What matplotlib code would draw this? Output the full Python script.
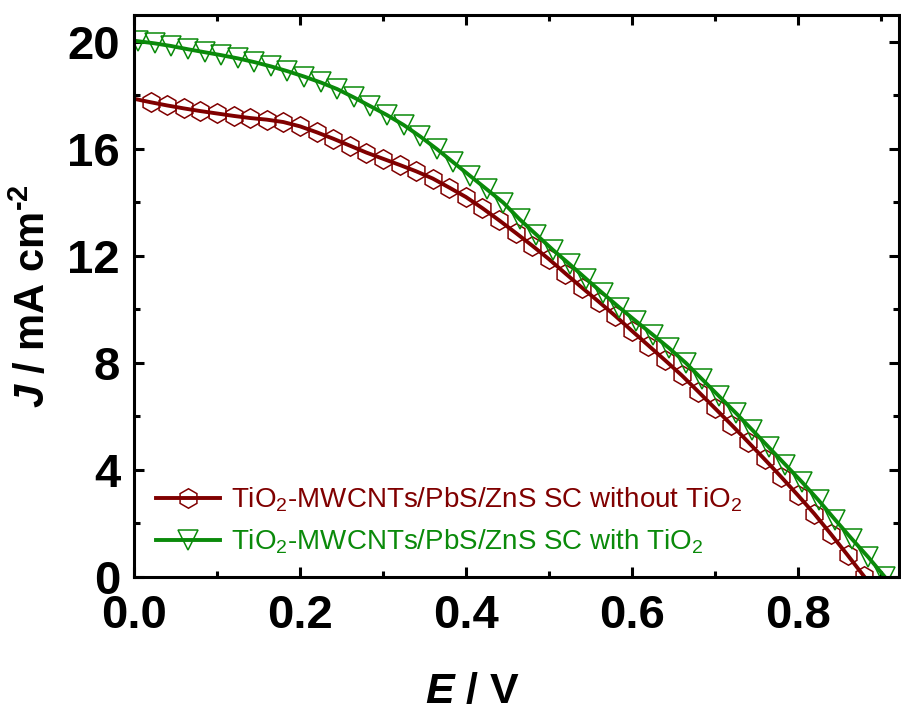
import matplotlib
matplotlib.use("Agg")
import matplotlib.pyplot as plt
from matplotlib.ticker import MultipleLocator

# J-V curves
E_red = [0.00, 0.02, 0.04, 0.06, 0.08, 0.10, 0.12, 0.14, 0.16, 0.18,
         0.20, 0.22, 0.24, 0.26, 0.28, 0.30, 0.32, 0.34, 0.36, 0.38,
         0.40, 0.42, 0.44, 0.46, 0.48, 0.50, 0.52, 0.54, 0.56, 0.58,
         0.60, 0.62, 0.64, 0.66, 0.68, 0.70, 0.72, 0.74, 0.76, 0.78,
         0.80, 0.82, 0.84, 0.86, 0.88]
J_red = [17.87, 17.74, 17.62, 17.51, 17.41, 17.32, 17.23, 17.15, 17.09, 17.00,
         16.84, 16.62, 16.38, 16.12, 15.86, 15.63, 15.40, 15.16, 14.89, 14.55,
         14.20, 13.78, 13.33, 12.86, 12.38, 11.88, 11.34, 10.81, 10.29, 9.76,
         9.20, 8.65, 8.10, 7.54, 6.93, 6.31, 5.69, 5.05, 4.40, 3.74,
         3.06, 2.36, 1.60, 0.82, 0.02]

E_green = [0.000, 0.005, 0.025, 0.045, 0.065, 0.085, 0.105, 0.125, 0.145, 0.165,
           0.185, 0.205, 0.225, 0.245, 0.265, 0.285, 0.305, 0.325, 0.345, 0.365,
           0.385, 0.405, 0.425, 0.445, 0.465, 0.485, 0.505, 0.525, 0.545, 0.565,
           0.585, 0.605, 0.625, 0.645, 0.665, 0.685, 0.705, 0.725, 0.745, 0.765,
           0.785, 0.805, 0.825, 0.845, 0.865, 0.885, 0.905]
J_green = [20.04, 20.02, 19.94, 19.84, 19.72, 19.61, 19.50, 19.38, 19.24, 19.08,
           18.90, 18.70, 18.48, 18.23, 17.92, 17.59, 17.26, 16.89, 16.46, 15.99,
           15.49, 14.99, 14.49, 13.99, 13.36, 12.79, 12.22, 11.69, 11.14, 10.60,
           10.07, 9.56, 9.06, 8.55, 8.00, 7.38, 6.76, 6.14, 5.50, 4.85,
           4.20, 3.55, 2.87, 2.14, 1.43, 0.74, 0.00]

label_red = "TiO$_2$-MWCNTs/PbS/ZnS SC without TiO$_2$"
label_green = "TiO$_2$-MWCNTs/PbS/ZnS SC with TiO$_2$"

red = "#800000"
green = "#0a8a0a"

plt.rcParams["font.family"] = ["Liberation Sans", "DejaVu Sans"]
plt.rcParams["mathtext.fontset"] = "custom"
plt.rcParams["mathtext.rm"] = "Liberation Sans"
plt.rcParams["mathtext.it"] = "Liberation Sans:italic"
plt.rcParams["mathtext.bf"] = "Liberation Sans:bold"
plt.rcParams["mathtext.bfit"] = "Liberation Sans:italic:bold"

fig = plt.figure(figsize=(9.01, 7.12), dpi=100)
ax = fig.add_axes([134 / 901, 1 - 577 / 712, 765 / 901, 562 / 712])

ax.plot(E_red, J_red, color=red, lw=2.8, marker="h", ms=14, mfc="none",
        mec=red, mew=1.1, markevery=list(range(1, len(E_red))), label=label_red)
ax.plot(E_green, J_green, color=green, lw=2.8, marker="v", ms=14, mfc="none",
        mec=green, mew=1.1, markevery=list(range(1, len(E_green))), label=label_green)

ax.set_xlim(0, 0.922)
ax.set_ylim(0, 21)
ax.xaxis.set_major_locator(MultipleLocator(0.2))
ax.xaxis.set_minor_locator(MultipleLocator(0.1))
ax.yaxis.set_major_locator(MultipleLocator(4))
ax.yaxis.set_minor_locator(MultipleLocator(2))
ax.xaxis.set_major_formatter(plt.FuncFormatter(lambda v, p: f"{v:.1f}"))

for s in ax.spines.values():
    s.set_linewidth(2.2)
ax.tick_params(which="both", direction="in", top=True, right=True, width=2.2)
ax.tick_params(which="major", length=7.5, labelsize=34)
ax.tick_params(which="minor", length=4)
ax.tick_params(axis="x", pad=12)
ax.tick_params(axis="y", pad=10)
for t in ax.get_xticklabels() + ax.get_yticklabels():
    t.set_fontweight("bold")

fig.text(472 / 901, 1 - 692 / 712, r"$\mathbfit{E}$ / V", fontsize=31,
         fontweight="bold", ha="center", va="center")
fig.text(33 / 901, 1 - 296 / 712, "$\\mathbfit{J}$ / mA cm$^{\\mathbf{\u20102}}$",
         fontsize=30, fontweight="bold", ha="center", va="center", rotation=90)

leg = ax.legend(loc="center left", bbox_to_anchor=(0.018, 0.10), frameon=False,
                fontsize=20, handlelength=2.3, handletextpad=0.4,
                labelspacing=0.5, borderpad=0, borderaxespad=0.3)
for txt, c in zip(leg.get_texts(), [red, green]):
    txt.set_color(c)

fig.savefig("out.png", dpi=100)
